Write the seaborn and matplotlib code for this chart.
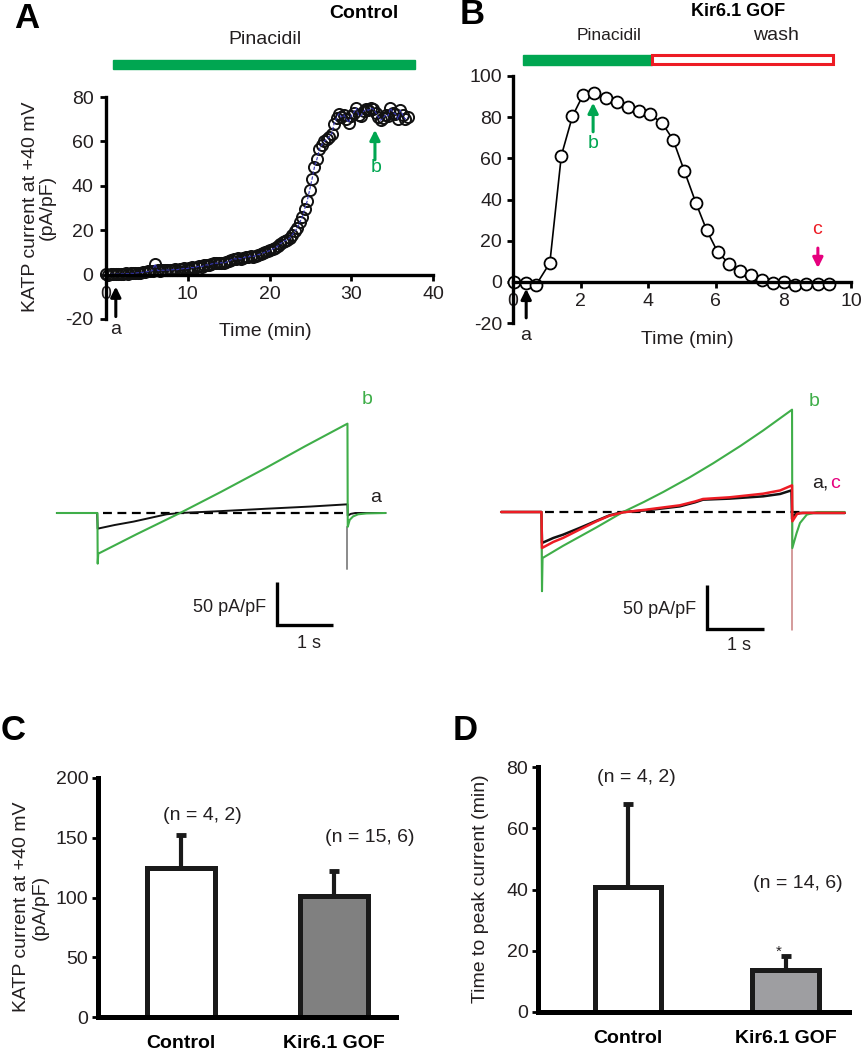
import numpy as np
import pandas as pd
import matplotlib
matplotlib.use("Agg")
import matplotlib.pyplot as plt
import seaborn as sns
from matplotlib.patches import Rectangle

# ---------------- data ----------------
# Panel A: Control, KATP current (pA/pF) vs time (min)
time_a = [0.0, 0.3, 0.6, 0.9, 1.2, 1.5, 1.8, 2.1, 2.4, 2.7,
          3.0, 3.3, 3.6, 3.9, 4.2, 4.5, 4.8, 5.1, 5.4, 5.7,
          6.0, 6.3, 6.6, 6.9, 7.2, 7.5, 7.8, 8.1, 8.4, 8.7,
          9.0, 9.3, 9.6, 9.9, 10.2, 10.5, 10.8, 11.1, 11.4, 11.7,
          12.0, 12.3, 12.6, 12.9, 13.2, 13.5, 13.8, 14.1, 14.4, 14.7,
          15.0, 15.3, 15.6, 15.9, 16.2, 16.5, 16.8, 17.1, 17.4, 17.7,
          18.0, 18.3, 18.6, 18.9, 19.2, 19.5, 19.8, 20.1, 20.4, 20.7,
          21.0, 21.3, 21.6, 21.9, 22.2, 22.5, 22.8, 23.1, 23.4, 23.7,
          24.0, 24.3, 24.6, 24.9, 25.2, 25.5, 25.8, 26.1, 26.4, 26.7,
          27.0, 27.3, 27.6, 27.9, 28.2, 28.5, 28.8, 29.1, 29.4, 29.7,
          30.0, 30.3, 30.6, 30.9, 31.2, 31.5, 31.8, 32.1, 32.4, 32.7,
          33.0, 33.3, 33.6, 33.9, 34.2, 34.5, 34.8, 35.1, 35.4, 35.7,
          36.0, 36.3, 36.6, 36.9]
current_a = [0.3, 0.0, 0.2, 0.1, 0.3, 0.2, 0.4, 0.3, 0.5, 0.4,
             0.6, 0.5, 0.7, 0.8, 0.9, 1.0, 1.2, 1.4, 1.5, 1.8,
             4.8, 1.9, 1.8, 2.0, 1.9, 2.1, 2.0, 2.2, 2.3, 2.2,
             2.5, 2.6, 2.8, 2.7, 3.0, 3.2, 3.1, 3.5, 3.8, 3.6,
             4.1, 4.4, 4.3, 4.8, 5.0, 5.2, 5.0, 5.4, 5.1, 5.6,
             6.0, 6.6, 7.2, 7.0, 7.4, 7.1, 7.6, 7.9, 8.0, 8.3,
             8.1, 8.6, 9.0, 9.3, 9.7, 10.2, 10.5, 10.9, 11.6, 12.0,
             12.8, 13.9, 14.6, 15.3, 15.8, 16.5, 18.0, 19.5, 21.0, 23.5,
             26.0, 29.5, 33.0, 38.0, 43.0, 48.5, 52.0, 56.5, 58.5, 60.0,
             61.0, 62.0, 63.5, 68.0, 70.5, 72.5, 71.0, 72.0, 70.0, 68.5,
             71.5, 73.0, 75.0, 72.0, 71.5, 73.5, 74.5, 74.0, 75.0, 74.5,
             73.0, 71.0, 69.5, 70.5, 72.0, 71.5, 75.0, 73.0, 72.5, 70.0,
             74.0, 72.0, 70.0, 71.0]

# Panel B: Kir6.1 GOF
time_b = [0.03, 0.38, 0.69, 1.09, 1.43, 1.76, 2.08, 2.39, 2.74, 3.08,
          3.41, 3.74, 4.05, 4.42, 4.74, 5.07, 5.41, 5.73, 6.06, 6.39,
          6.72, 7.05, 7.36, 7.69, 8.02, 8.35, 8.68, 9.01, 9.34]
current_b = [0.0, -0.5, -1.3, 9.2, 61.3, 80.5, 91.0, 91.6, 89.5, 87.2,
             85.0, 83.1, 81.4, 77.0, 68.9, 53.8, 38.4, 25.1, 14.3, 8.9,
             5.2, 3.1, 1.1, -0.5, 0.0, -1.6, -1.1, -1.1, -1.1]

# Current traces (time in s from ramp onset, current in pA/pF)
ctl_a_t = [-0.73, -0.01, 0.0, 0.3, 0.64, 1.23, 1.47, 2.2, 3.02, 3.8, 4.46, 4.465, 4.52, 4.6, 5.14]
ctl_a_i = [0.0, 0.0, -18.2, -14.0, -10.0, -1.5, 0.0, 2.2, 5.0, 7.5, 10.1, -3.0, -1.0, 0.0, 0.0]
ctl_b_t = [-0.73, -0.005, 0.0, 0.01, 0.7, 1.47, 2.2, 3.0, 3.7, 4.46, 4.465, 4.5, 4.56, 4.65, 4.8, 5.14]
ctl_b_i = [0.0, 0.0, -58.9, -47.3, -24.5, 0.0, 24.5, 52.3, 77.5, 103.9, -16.0, -8.0, -4.0, -1.5, -0.5, 0.0]
ctl_spike_t = [4.46, 4.46]
ctl_spike_i = [-16.0, -65.0]

gof_a_t = [-0.72, -0.01, 0.0, 0.2, 0.37, 0.66, 0.96, 1.19, 1.43, 1.84, 2.43, 2.7, 2.84, 3.31, 3.9, 4.2, 4.4, 4.41, 4.45, 4.55, 5.34]
gof_a_i = [0.0, 0.0, -35.2, -29.5, -25.8, -18.2, -10.0, -3.8, 0.0, 1.9, 6.4, 11.0, 14.0, 15.2, 17.8, 20.5, 24.6, -8.0, -3.0, -1.1, -1.1]
gof_b_t = [-0.72, -0.01, 0.0, 0.01, 0.37, 0.96, 1.43, 1.8, 2.14, 2.6, 3.02, 3.5, 3.9, 4.41, 4.415, 4.49, 4.55, 4.67, 4.85, 5.34]
gof_b_i = [0.0, 0.0, -90.0, -52.3, -38.5, -17.5, 0.0, 11.5, 22.8, 39.2, 55.4, 75.1, 92.6, 116.3, -41.0, -24.0, -12.5, -3.0, 0.0, 0.0]
gof_c_t = [-0.72, -0.01, 0.0, 0.2, 0.37, 0.66, 0.96, 1.19, 1.43, 1.84, 2.43, 2.7, 2.84, 3.31, 3.9, 4.2, 4.41, 4.415, 4.5, 4.6, 5.34]
gof_c_i = [0.0, 0.0, -40.9, -34.0, -29.5, -20.1, -10.6, -4.2, -0.4, 2.7, 7.6, 12.0, 14.8, 16.7, 20.8, 24.5, 30.3, -10.6, -2.0, -1.0, -1.0]
gof_spike1_t = [0.0, 0.0]
gof_spike1_i = [-40.9, -85.0]
gof_spike2_t = [4.415, 4.415]
gof_spike2_i = [-10.6, -133.7]

# Panels C and D
groups = ["Control", "Kir6.1 GOF"]
peak_mean = [125.0, 101.5]
peak_err = [27.3, 21.0]
ttp_mean = [40.9, 13.7]
ttp_err = [26.9, 4.7]
n_c = ["(n = 4, 2)", "(n = 15, 6)"]
n_d = ["(n = 4, 2)", "(n = 14, 6)"]

# ---------------- style ----------------
sns.set_style("ticks")
plt.rcParams["font.family"] = ["Liberation Sans", "DejaVu Sans"]
plt.rcParams["axes.unicode_minus"] = False
TXT = "#231f20"
GREEN = "#00a651"
TGREEN = "#3fae49"
RED = "#ed1c24"
MAG = "#e6007e"

W, H = 863, 1050
fig = plt.figure(figsize=(W / 100, H / 100), dpi=100)


def axpx(l, t, r, b):
    return fig.add_axes([l / W, 1 - b / H, (r - l) / W, (b - t) / H])


def ftxt(x, y, s, **kw):
    kw.setdefault("color", TXT)
    kw.setdefault("ha", "center")
    kw.setdefault("va", "center")
    return fig.text(x / W, 1 - y / H, s, **kw)


def arrow(ax, x, y0, y1, color):
    ax.annotate("", xy=(x, y1), xytext=(x, y0), annotation_clip=False,
                arrowprops=dict(arrowstyle="-|>", color=color, lw=2.2,
                                mutation_scale=15, shrinkA=0, shrinkB=0))


def style_xy(ax, lw, ticklen, pad_x, pad_y):
    sns.despine(ax=ax)
    for sp in ["left", "bottom"]:
        ax.spines[sp].set_linewidth(lw)
        ax.spines[sp].set_color("black")
        ax.spines[sp].set_capstyle("projecting")
    ax.tick_params(axis="both", labelsize=14, labelcolor=TXT, color="black",
                   width=2, length=ticklen, direction="out")
    ax.tick_params(axis="x", pad=pad_x)
    ax.tick_params(axis="y", pad=pad_y)
    ax.set_xlabel("")
    ax.set_ylabel("")


# ---------------- Panel A ----------------
axA = axpx(106, 97, 433, 319)
dfA = pd.DataFrame({"t": time_a, "i": current_a})
sns.lineplot(data=dfA, x="t", y="i", ax=axA, estimator=None, sort=False,
             lw=0, marker="o", markersize=8.0, markerfacecolor="none",
             markeredgecolor="#111111", markeredgewidth=1.4)
sns.lineplot(data=dfA, x="t", y="i", ax=axA, estimator=None, sort=False,
             color="#3535b5", lw=0.8, linestyle=(0, (3, 1.5)))
for ln in axA.lines:
    ln.set_clip_on(False)
axA.set_xlim(0, 40)
axA.set_ylim(-20, 80)
axA.set_xticks([0, 10, 20, 30, 40])
axA.set_yticks([-20, 0, 20, 40, 60, 80])
style_xy(axA, 2.4, 4, 4, 5)
axA.spines["bottom"].set_position(("data", 0))
axA.add_patch(Rectangle((0.85, 92.6), 36.95, 4.0, color=GREEN, clip_on=False))
arrow(axA, 1.2, -18.9, -5.4, "black")
arrow(axA, 32.9, 51.7, 65.2, GREEN)

ftxt(27, 18, "A", fontsize=25, fontweight="bold", color="black")
ftxt(364, 14, "Control", fontsize=14, fontweight="bold", color="black")
ftxt(265, 39, "Pinacidil", fontsize=14)
ftxt(39, 207, "KATP current at +40 mV\n(pA/pF)", fontsize=14, rotation=90,
     multialignment="center", linespacing=0.95)
ftxt(265, 332, "Time (min)", fontsize=14)
ftxt(116, 329, "a", fontsize=14)
ftxt(376, 167, "b", fontsize=14, color=GREEN)

# ---------------- Panel B ----------------
axB = axpx(513, 76, 851, 323)
dfB = pd.DataFrame({"t": time_b, "i": current_b})
sns.lineplot(data=dfB, x="t", y="i", ax=axB, estimator=None, sort=False,
             color="black", lw=1.2, marker="o", markersize=8.6,
             markerfacecolor="white", markeredgecolor="black", markeredgewidth=1.3)
for ln in axB.lines:
    ln.set_clip_on(False)
axB.set_xlim(0, 10)
axB.set_ylim(-20, 100)
axB.set_xticks([0, 2, 4, 6, 8, 10])
axB.set_yticks([-20, 0, 20, 40, 60, 80, 100])
style_xy(axB, 2.4, 4, 4, 4)
axB.spines["bottom"].set_position(("data", 0))
axB.add_patch(Rectangle((0.3, 105.4), 3.8, 4.9, color=GREEN, clip_on=False))
axB.add_patch(Rectangle((4.1, 105.6), 5.36, 4.5, facecolor="white",
                        edgecolor=RED, lw=2.2, clip_on=False))
arrow(axB, 0.39, -17.5, -3.4, "black")
arrow(axB, 2.37, 72.9, 87.0, GREEN)
arrow(axB, 9.02, 16.4, 6.7, MAG)

ftxt(472, 15, "B", fontsize=25, fontweight="bold", color="black")
ftxt(738, 12, "Kir6.1 GOF", fontsize=13, fontweight="bold", color="black")
ftxt(609, 36, "Pinacidil", fontsize=12.5)
ftxt(776, 36, "wash", fontsize=14)
ftxt(687, 340, "Time (min)", fontsize=14)
ftxt(526, 335, "a", fontsize=14)
ftxt(593, 143, "b", fontsize=14, color=GREEN)
ftxt(817, 230, "c", fontsize=14, color=RED)

# ---------------- Traces (control) ----------------
axL = axpx(40, 380, 400, 660)
axL.plot([0.1, 4.45], [0, 0], color="black", lw=1.6, ls=(0, (4, 2.5)))
sns.lineplot(x=ctl_spike_t, y=ctl_spike_i, ax=axL, estimator=None, sort=False,
             color="#8a8a8a", lw=1.4)
sns.lineplot(x=ctl_a_t, y=ctl_a_i, ax=axL, estimator=None, sort=False,
             color="#111111", lw=1.4)
sns.lineplot(x=ctl_b_t, y=ctl_b_i, ax=axL, estimator=None, sort=False,
             color=TGREEN, lw=1.5)
axL.set_xlim((40 - 97.7) / 56, (400 - 97.7) / 56)
axL.set_ylim((513 - 660) / 0.86, (513 - 380) / 0.86)
axL.plot([3.196, 3.196, 4.196], [-80.2, -130.2, -130.2], color="black", lw=2.4,
         solid_joinstyle="miter", solid_capstyle="butt")
axL.axis("off")
ftxt(266, 607, "50 pA/pF", fontsize=13, ha="right")
ftxt(309, 643, "1 s", fontsize=13)
ftxt(367, 400, "b", fontsize=14, color=TGREEN)
ftxt(376, 498, "a", fontsize=14)

# ---------------- Traces (Kir6.1 GOF) ----------------
axR = axpx(480, 380, 860, 660)
axR.plot([0.05, 4.6], [0, 0], color="black", lw=1.6, ls=(0, (4, 2.5)))
sns.lineplot(x=gof_spike1_t, y=gof_spike1_i, ax=axR, estimator=None, sort=False,
             color="#c98080", lw=1.1)
sns.lineplot(x=gof_spike2_t, y=gof_spike2_i, ax=axR, estimator=None, sort=False,
             color="#c98080", lw=1.1)
sns.lineplot(x=gof_a_t, y=gof_a_i, ax=axR, estimator=None, sort=False,
             color="#111111", lw=1.8)
sns.lineplot(x=gof_b_t, y=gof_b_i, ax=axR, estimator=None, sort=False,
             color=TGREEN, lw=1.5)
sns.lineplot(x=gof_c_t, y=gof_c_i, ax=axR, estimator=None, sort=False,
             color=RED, lw=1.8)
axR.set_xlim((480 - 542) / 56.7, (860 - 542) / 56.7)
axR.set_ylim((512 - 660) / 0.88, (512 - 380) / 0.88)
axR.plot([2.91, 2.91, 3.91], [-83, -133, -133], color="black", lw=2.4,
         solid_joinstyle="miter", solid_capstyle="butt")
axR.axis("off")
ftxt(696, 610, "50 pA/pF", fontsize=13, ha="right")
ftxt(739, 645, "1 s", fontsize=13)
ftxt(814, 401, "b", fontsize=14, color=TGREEN)
ftxt(812, 483, "a,", fontsize=14, ha="left")
ftxt(830, 483, "c", fontsize=14, ha="left", color=MAG)


# ---------------- Bar panels ----------------
def bar_panel(box, means, errs, ylim, yticks, width, fills, xl, xr):
    ax = axpx(*box)
    df = pd.DataFrame({"group": groups, "value": means})
    sns.barplot(data=df, x="group", y="value", hue="group", palette=fills,
                width=width, edgecolor="#1a1a1a", linewidth=3.6,
                errorbar=None, legend=False, ax=ax, zorder=2)
    ax.errorbar([0, 1], means, yerr=[[0, 0], errs], fmt="none", ecolor="#1a1a1a",
                elinewidth=3.0, capsize=3.5, capthick=3.5, zorder=3)
    ax.set_xlim(xl, xr)
    ax.set_ylim(*ylim)
    ax.set_yticks(yticks)
    style_xy(ax, 3.6, 4, 13, 3)
    ax.tick_params(axis="x", length=0)
    ax.set_xticks([0, 1])
    ax.set_xticklabels(groups, fontweight="bold", fontsize=14, color="black")
    return ax


axC = bar_panel((98, 778, 396, 1017), peak_mean, peak_err, (0, 200),
                [0, 50, 100, 150, 200], 0.44, ["white", "#808080"],
                -(181 - 98) / 153, 1 + (396 - 334) / 153)
ftxt(13, 730, "C", fontsize=25, fontweight="bold", color="black")
ftxt(31, 907, "KATP current at +40 mV\n(pA/pF)", fontsize=14, rotation=90,
     multialignment="center", linespacing=1.1)
ftxt(202, 815, n_c[0], fontsize=14)
ftxt(370, 838, n_c[1], fontsize=14)

axD = bar_panel((538, 767, 849, 1012), ttp_mean, ttp_err, (0, 80),
                [0, 20, 40, 60, 80], 0.425, ["white", "#9d9da1"],
                -(628 - 538) / 157.5, 1 + (849 - 785.5) / 157.5)
ftxt(465, 730, "D", fontsize=25, fontweight="bold", color="black")
ftxt(480, 889, "Time to peak current (min)", fontsize=14, rotation=90)
ftxt(636, 777, n_d[0], fontsize=14)
ftxt(798, 883, n_d[1], fontsize=14)
ftxt(779, 952, "*", fontsize=11)

fig.savefig("out.png", dpi=100)
